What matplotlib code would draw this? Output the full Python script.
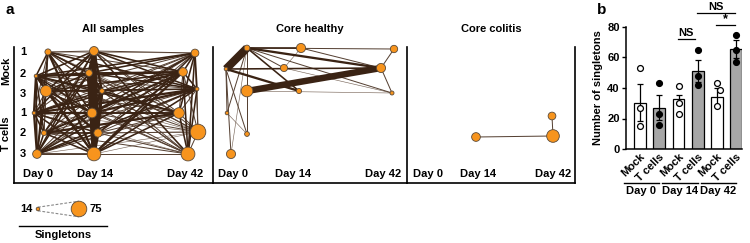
import numpy as np
import matplotlib
matplotlib.use("Agg")
import matplotlib.pyplot as plt
from matplotlib.transforms import blended_transform_factory
from matplotlib.colors import to_rgb

plt.rcParams['font.family'] = ['Liberation Sans', 'DejaVu Sans']
plt.rcParams['font.weight'] = 'bold'

W, H = 750, 243

# ---------------- data: panel a, networks ----------------
# node layout (layout units, origin at lower-left corner of each panel)
all_x = [34, 22, 32, 20, 30, 23, 80, 75, 88, 78, 84, 80, 181, 169, 183, 165, 184, 174]
all_y = [131, 107, 92, 70, 50, 29, 132, 110, 92, 70, 50, 29, 130, 111, 94, 70, 51, 29]
all_singletons = [27, 14, 53, 14, 22, 40, 41, 30, 20, 45, 38, 65, 35, 40, 15, 50, 75, 66]
# upper triangle edge weights (0 = no edge), row i -> nodes i+1..17
all_weights = [
    "32223232324123122",
    "3433333334342322",
    "223332333233212",
    "34323433234311",
    "3232333232412",
    "332333233211",
    "54656233223",
    "5656333222",
    "545232312",
    "56334322",
    "5232222",
    "343312",
    "33323",
    "3223",
    "223",
    "23",
    "2",
]

healthy_x = [34, 13, 34, 14, 34, 18, 88, 71, 86, 181, 168, 179]
healthy_y = [135, 114, 92, 70, 49, 29, 135, 115, 92, 134, 115, 90]
healthy_singletons = [25, 14, 55, 14, 20, 42, 42, 32, 22, 33, 42, 16]
healthy_edges = [(0, 1, 8), (2, 10, 7), (1, 8, 4), (0, 10, 4), (0, 6, 3), (0, 7, 2),
                 (0, 8, 3), (0, 9, 2), (0, 11, 2), (0, 2, 1), (0, 3, 2), (0, 4, 2),
                 (0, 5, 1), (1, 3, 2), (1, 4, 2), (1, 5, 2), (1, 10, 3), (3, 4, 1),
                 (6, 10, 2), (6, 7, 1), (7, 10, 2), (7, 11, 1), (9, 10, 2), (10, 11, 2),
                 (2, 11, 1)]

colitis_x = [69, 145, 146]
colitis_y = [46, 67, 47]
colitis_singletons = [40, 35, 60]
colitis_edges = [(0, 2, 2), (1, 2, 2)]

day_labels = ["Day 0", "Day 14", "Day 42"]
row_labels = ["1", "2", "3", "1", "2", "3"]

# ---------------- data: panel b ----------------
bar_labels = ["Mock", "T cells", "Mock", "T cells", "Mock", "T cells"]
bar_means = [30.3, 27.2, 32.5, 51.2, 34.2, 65.8]
bar_sem = [12.0, 8.0, 3.2, 7.0, 6.1, 5.9]
bar_points = [[53, 27, 15], [43, 23, 16], [41, 30, 23],
              [65, 48, 42], [43, 39, 28], [75, 65, 57]]
point_jitter = [[0, 0, 0], [0, 0, 0], [0, 0, 0], [0, 0, 0], [0, 0.15, 0], [0, 0, 0]]

ORANGE = '#f7941d'
DARK = '#3a2314'
LIGHT = '#a89a8e'


def px_axes(fig, left, top, right, bottom):
    return fig.add_axes([left / W, 1 - bottom / H, (right - left) / W, (bottom - top) / H])


def radius(s):
    return 1.8 + (s - 14) / (75 - 14) * 6.0


def msize(s):
    d = 2 * radius(s) * 0.72
    return d * d


def edge_style(w):
    lw = {1: 0.6, 2: 1.0, 3: 1.6, 4: 2.3, 5: 3.2, 6: 4.5, 7: 6.5, 8: 8.0}[w]
    t = min(1.0, 0.45 + 0.3 * (w - 1))
    c0, c1 = np.array(to_rgb(LIGHT)), np.array(to_rgb(DARK))
    return lw * 0.72, tuple(c0 + (c1 - c0) * t)


def draw_network(ax, xs, ys, sing, edges):
    for i, j, w in sorted(edges, key=lambda e: e[2]):
        lw, col = edge_style(w)
        ax.plot([xs[i], xs[j]], [ys[i], ys[j]], color=col, lw=lw,
                solid_capstyle='butt', zorder=1 + w * 0.1, clip_on=False)
    ax.scatter(xs, ys, s=[msize(s) for s in sing], c=ORANGE, edgecolors='#5a4a3a',
               linewidths=0.6, zorder=5, clip_on=False)


fig = plt.figure(figsize=(W / 100, H / 100), dpi=100)

top, bot = 47, 183
panels = [(14, 213, "All samples"), (213, 407, "Core healthy"), (407, 575, "Core colitis")]
axes_a = []
for k, (l, r, title) in enumerate(panels):
    ax = px_axes(fig, l, top, r, bot)
    ax.set_xlim(0, r - l)
    ax.set_ylim(0, bot - top)
    ax.set_xticks([])
    ax.set_yticks([])
    ax.patch.set_alpha(0)
    for sp in ['top', 'right']:
        ax.spines[sp].set_visible(False)
    if k == 2:
        ax.spines['right'].set_visible(True)
    for sp in ax.spines.values():
        sp.set_linewidth(1.2)
    ax.text((r - l) / 2, bot - 29, title, ha='center', va='center', fontsize=8,
            fontweight='bold', clip_on=False)
    axes_a.append(ax)

edges_all = []
for i, row in enumerate(all_weights):
    for k, ch in enumerate(row):
        if ch != '0':
            edges_all.append((i, i + 1 + k, int(ch)))

draw_network(axes_a[0], all_x, all_y, all_singletons, edges_all)
draw_network(axes_a[1], healthy_x, healthy_y, healthy_singletons, healthy_edges)
draw_network(axes_a[2], colitis_x, colitis_y, colitis_singletons, colitis_edges)

day_pos = [[24, 81, 171], [20, 80, 170], [21, 71, 146]]
for ax, xs in zip(axes_a, day_pos):
    for x, lab in zip(xs, day_labels):
        ax.text(x, 9, lab, ha='center', va='center', fontsize=8, fontweight='bold')

row_y = [131, 109, 89, 70, 50, 29]
for y, lab in zip(row_y, row_labels):
    axes_a[0].text(9, y, lab, ha='center', va='center', fontsize=8, fontweight='bold')
axes_a[0].text(-8, 112, "Mock", rotation=90, ha='center', va='center', fontsize=8,
               fontweight='bold')
axes_a[0].text(-8, 49, "T cells", rotation=90, ha='center', va='center', fontsize=8,
               fontweight='bold')

fig.text(5 / W, 1 - 10 / H, "a", fontsize=11, fontweight='bold', ha='left', va='center')
fig.text(597 / W, 1 - 10 / H, "b", fontsize=11, fontweight='bold', ha='left', va='center')

# legend for node size
axl = px_axes(fig, 0, 190, 120, 243)
axl.set_xlim(0, 120)
axl.set_ylim(243, 190)
axl.axis('off')
r0, r1 = radius(14), radius(75)
axl.plot([38, 79], [209 - r0, 209 - r1], ls=(0, (2.5, 1.5)), color='#888888', lw=0.8)
axl.plot([38, 79], [209 + r0, 209 + r1], ls=(0, (2.5, 1.5)), color='#888888', lw=0.8)
axl.scatter([38, 79], [209, 209], s=[msize(14), msize(75)], c=ORANGE,
            edgecolors='#5a4a3a', linewidths=0.6, zorder=5)
axl.text(33, 209, "14", ha='right', va='center', fontsize=8, fontweight='bold')
axl.text(89, 209, "75", ha='left', va='center', fontsize=8, fontweight='bold')
axl.plot([19, 107], [226, 226], color='black', lw=1.0)
axl.text(63, 235, "Singletons", ha='center', va='center', fontsize=8, fontweight='bold')

# ---------------- panel b ----------------
axb = px_axes(fig, 626, 27, 742, 149)
xpos = np.arange(len(bar_means))
colors = ['white' if lab == 'Mock' else '#a6a6a6' for lab in bar_labels]
axb.bar(xpos, bar_means, width=0.62, color=colors, edgecolor='black', linewidth=0.9, zorder=2)
axb.errorbar(xpos, bar_means, yerr=bar_sem, fmt='none', ecolor='black', elinewidth=0.9,
             capsize=2.5, capthick=0.9, zorder=3)
for x, pts, jit, lab in zip(xpos, bar_points, point_jitter, bar_labels):
    fc = 'white' if lab == 'Mock' else 'black'
    axb.scatter(x + np.array(jit), pts, s=18, facecolor=fc, edgecolor='black',
                linewidths=0.9, zorder=4, clip_on=False)
axb.set_xlim(-0.73, 5.3)
axb.set_ylim(0, 80)
axb.set_yticks([0, 20, 40, 60, 80])
axb.set_xticks(xpos)
axb.set_xticklabels(bar_labels, rotation=45, ha='right', rotation_mode='anchor',
                    fontsize=8, fontweight='bold')
for t in axb.get_yticklabels():
    t.set_fontweight('bold')
axb.tick_params(axis='y', labelsize=8, length=3, width=1, pad=1.5)
axb.tick_params(axis='x', length=0, pad=2)
for sp in ['top', 'right']:
    axb.spines[sp].set_visible(False)
axb.spines['left'].set_linewidth(1.1)
axb.spines['bottom'].set_linewidth(1.1)
axb.set_ylabel("Number of singletons", fontsize=8, fontweight='bold', labelpad=3)

# significance
axb.plot([1.95, 2.85], [72, 72], color='black', lw=0.9, clip_on=False)
axb.text(2.4, 73, "NS", ha='center', va='bottom', fontsize=8, fontweight='bold')
axb.plot([3.95, 4.95], [81.5, 81.5], color='black', lw=0.9, clip_on=False)
axb.text(4.45, 81.5, "*", ha='center', va='bottom', fontsize=9, fontweight='bold')
axb.plot([2.95, 4.95], [89, 89], color='black', lw=0.9, clip_on=False)
axb.text(3.95, 90, "NS", ha='center', va='bottom', fontsize=8, fontweight='bold',
         clip_on=False)

# group underlines
tr = blended_transform_factory(axb.transData, fig.transFigure)
for g, lab in enumerate(day_labels):
    x0 = 2 * g - 0.85
    x1 = 2 * g + 1.0
    axb.plot([x0, x1], [1 - 183 / H] * 2, color='black', lw=1.0, transform=tr, clip_on=False)
    axb.text((x0 + x1) / 2, 1 - 191 / H, lab, ha='center', va='center', fontsize=8,
             fontweight='bold', transform=tr)

fig.savefig("out.png", dpi=100)
